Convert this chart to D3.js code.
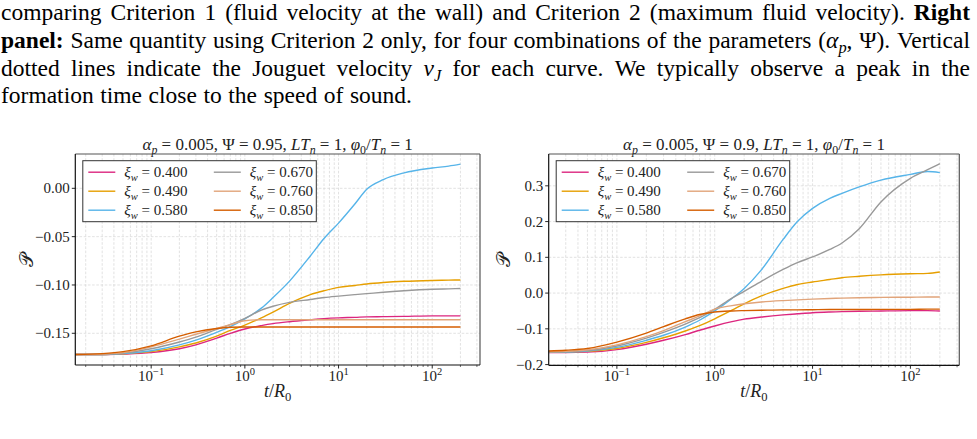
<!DOCTYPE html>
<html>
<head>
<meta charset="utf-8">
<script src="https://cdn.jsdelivr.net/npm/d3@7"></script>
<style>
  body { margin: 0; background: #fff; }
  svg { display: block; }
</style>
</head>
<body>
<svg id="fig" width="977" height="439"></svg>
<script>
// sample times t/R0
const tLeft  = [0.0155, 0.03, 0.05, 0.1, 0.2, 0.3, 0.5, 0.7, 1, 1.5, 2, 3, 5, 7, 10, 15, 20, 30, 50, 100, 150, 200]
const tRight = [0.02, 0.03, 0.05, 0.1, 0.2, 0.3, 0.5, 0.7, 1, 1.5, 2, 3, 5, 7, 10, 15, 20, 30, 50, 100, 150, 200]

const xiLabels = ["0.400", "0.490", "0.580", "0.670", "0.760", "0.850"]
const colors = ["#DC267F", "#E69F00", "#56B4E9", "#999999", "#E1A47A", "#D55E00"]

// left panel: alpha_p = 0.005, Psi = 0.95
const left400 = [-0.172, -0.172, -0.1715, -0.170, -0.166, -0.162, -0.155, -0.150, -0.1455, -0.142, -0.140, -0.138, -0.136, -0.1348, -0.134, -0.1335, -0.133, -0.1328, -0.1325, -0.132, -0.132, -0.132]
const left490 = [-0.172, -0.172, -0.1712, -0.169, -0.164, -0.160, -0.153, -0.147, -0.1415, -0.134, -0.128, -0.119, -0.110, -0.106, -0.1025, -0.1005, -0.099, -0.0975, -0.0962, -0.0953, -0.095, -0.0948]
const left580 = [-0.172, -0.172, -0.171, -0.168, -0.162, -0.157, -0.149, -0.143, -0.135, -0.124, -0.113, -0.096, -0.070, -0.052, -0.036, -0.016, -0.001, 0.009, 0.016, 0.021, 0.023, 0.025]
const left670 = [-0.172, -0.172, -0.1705, -0.166, -0.159, -0.154, -0.146, -0.141, -0.1345, -0.126, -0.122, -0.118, -0.115, -0.113, -0.1115, -0.110, -0.109, -0.1075, -0.106, -0.1045, -0.104, -0.1037]
const left760 = [-0.172, -0.1715, -0.170, -0.164, -0.156, -0.151, -0.145, -0.141, -0.137, -0.136, -0.136, -0.136, -0.136, -0.136, -0.136, -0.136, -0.136, -0.136, -0.136, -0.136, -0.136, -0.136]
const left850 = [-0.172, -0.171, -0.169, -0.163, -0.153, -0.1485, -0.145, -0.1438, -0.1435, -0.1435, -0.1435, -0.1435, -0.1435, -0.1435, -0.1435, -0.1435, -0.1435, -0.1435, -0.1435, -0.1435, -0.1435, -0.1435]

// right panel: alpha_p = 0.005, Psi = 0.9
const right400 = [-0.166, -0.166, -0.165, -0.158, -0.143, -0.132, -0.116, -0.104, -0.092, -0.080, -0.073, -0.067, -0.061, -0.058, -0.055, -0.053, -0.052, -0.051, -0.050, -0.049, -0.049, -0.050]
const right490 = [-0.165, -0.165, -0.163, -0.155, -0.138, -0.125, -0.106, -0.091, -0.072, -0.048, -0.030, -0.008, 0.013, 0.024, 0.031, 0.038, 0.043, 0.047, 0.051, 0.054, 0.055, 0.059]
const right580 = [-0.165, -0.165, -0.162, -0.152, -0.132, -0.118, -0.095, -0.076, -0.050, -0.015, 0.013, 0.065, 0.150, 0.200, 0.237, 0.265, 0.279, 0.297, 0.316, 0.332, 0.340, 0.337]
const right670 = [-0.164, -0.164, -0.161, -0.148, -0.126, -0.110, -0.087, -0.069, -0.045, -0.014, 0.005, 0.033, 0.066, 0.085, 0.101, 0.122, 0.140, 0.180, 0.255, 0.321, 0.345, 0.362]
const right760 = [-0.164, -0.163, -0.159, -0.145, -0.122, -0.105, -0.080, -0.064, -0.045, -0.035, -0.030, -0.025, -0.021, -0.019, -0.017, -0.015, -0.014, -0.013, -0.012, -0.0115, -0.011, -0.011]
const right850 = [-0.162, -0.160, -0.155, -0.137, -0.112, -0.094, -0.072, -0.060, -0.053, -0.050, -0.049, -0.048, -0.047, -0.047, -0.0465, -0.046, -0.046, -0.046, -0.0455, -0.0455, -0.045, -0.045]

const leftYTicks = [-0.15, -0.10, -0.05, 0.00]
const rightYTicks = [-0.2, -0.1, 0.0, 0.1, 0.2, 0.3]
const xMajor = [0.1, 1, 10, 100]

const svg = d3.select("#fig")
const serif = "'Liberation Serif', 'Times New Roman', serif"

// text with italic / bold / sub / sup pieces
function richText(sel, segs, size) {
  let shift = 0
  segs.forEach(s => {
    const target = s.sub ? size * 0.22 : s.sup ? -size * 0.42 : 0
    sel.append("tspan")
      .attr("dy", target - shift)
      .attr("font-size", (s.sub || s.sup) ? size * 0.7 : size)
      .attr("font-style", s.i ? "italic" : null)
      .attr("font-weight", s.b ? "bold" : null)
      .text(s.t)
    shift = target
  })
  return sel
}

// ---------- caption above the figure ----------
const captionLines = [
  [{t: "comparing Criterion 1 (fluid velocity at the wall) and Criterion 2 (maximum fluid velocity). "}, {t: "Right", b: true}],
  [{t: "panel:", b: true}, {t: " Same quantity using Criterion 2 only, for four combinations of the parameters ("}, {t: "α", i: true}, {t: "p", i: true, sub: true}, {t: ", Ψ). Vertical"}],
  [{t: "dotted lines indicate the Jouguet velocity "}, {t: "v", i: true}, {t: "J", i: true, sub: true}, {t: " for each curve. We typically observe a peak in the"}],
  [{t: "formation time close to the speed of sound."}]
]
const capBase = [20, 48, 76, 103]
const capSize = 23.5

function toWords(segs) {
  const words = [[]]
  segs.forEach(s => {
    s.t.split(" ").forEach((p, i) => {
      if (i > 0) words.push([])
      if (p) words[words.length - 1].push({...s, t: p})
    })
  })
  return words.filter(w => w.length)
}

const cap = svg.append("g").attr("font-family", serif).attr("fill", "#000")
captionLines.forEach((segs, li) => {
  const words = toWords(segs)
  const nodes = words.map(w => richText(cap.append("text").attr("y", capBase[li]), w, capSize))
  const widths = nodes.map(n => n.node().getComputedTextLength())
  const total = d3.sum(widths)
  const last = li === captionLines.length - 1
  const gap = last ? capSize * 0.28 : (970 - 1 - total) / (words.length - 1)
  let x = 1
  nodes.forEach((n, i) => { n.attr("x", x); x += widths[i] + gap })
})

// ---------- panels ----------
const panels = [
  {
    x0: 75.3, x1: 480, y0: 154, y1: 365,
    xDomain: [Math.pow(10, -1.81), Math.pow(10, 2.51)],
    yDomain: [-0.1828, 0.0355],
    yTicks: leftYTicks, yFmt: d3.format(".2f"),
    t: tLeft,
    series: [left400, left490, left580, left670, left760, left850],
    title: [{t: "α", i: true}, {t: "p", i: true, sub: true}, {t: " = 0.005, Ψ = 0.95, "}, {t: "LT", i: true}, {t: "n", i: true, sub: true}, {t: " = 1, "}, {t: "φ", i: true}, {t: "0", sub: true}, {t: "/"}, {t: "T", i: true}, {t: "n", i: true, sub: true}, {t: " = 1"}],
    yLabelX: 26
  },
  {
    x0: 548.7, x1: 959.3, y0: 154, y1: 365.3,
    xDomain: [Math.pow(10, -1.697), Math.pow(10, 2.5)],
    yDomain: [-0.202, 0.389],
    yTicks: rightYTicks, yFmt: d3.format(".1f"),
    t: tRight,
    series: [right400, right490, right580, right670, right760, right850],
    title: [{t: "α", i: true}, {t: "p", i: true, sub: true}, {t: " = 0.005, Ψ = 0.9, "}, {t: "LT", i: true}, {t: "n", i: true, sub: true}, {t: " = 1, "}, {t: "φ", i: true}, {t: "0", sub: true}, {t: "/"}, {t: "T", i: true}, {t: "n", i: true, sub: true}, {t: " = 1"}],
    yLabelX: 503
  }
]

panels.forEach((p, pi) => {
  const x = d3.scaleLog().domain(p.xDomain).range([p.x0, p.x1])
  const y = d3.scaleLinear().domain(p.yDomain).range([p.y1, p.y0])
  const g = svg.append("g").attr("font-family", serif)

  // minor + major decade ticks
  const allX = []
  for (let k = -2; k <= 2; k++) for (let m = 1; m <= 9; m++) {
    const v = m * Math.pow(10, k)
    if (v >= p.xDomain[0] && v <= p.xDomain[1]) allX.push(v)
  }

  // grid
  const grid = g.append("g").attr("stroke", "#d6d6d6").attr("stroke-width", 0.7)
    .attr("stroke-dasharray", "2.6,1.6").attr("fill", "none")
  grid.selectAll(".gx").data(allX).join("line")
    .attr("x1", d => x(d)).attr("x2", d => x(d)).attr("y1", p.y0).attr("y2", p.y1)
  grid.selectAll(".gy").data(p.yTicks).join("line")
    .attr("x1", p.x0).attr("x2", p.x1).attr("y1", d => y(d)).attr("y2", d => y(d))

  // curves
  const clipId = "clip" + pi
  g.append("clipPath").attr("id", clipId).append("rect")
    .attr("x", p.x0).attr("y", p.y0).attr("width", p.x1 - p.x0).attr("height", p.y1 - p.y0)
  const line = d3.line().x(d => x(d[0])).y(d => y(d[1])).curve(d3.curveMonotoneX)
  g.append("g").attr("clip-path", `url(#${clipId})`)
    .selectAll("path").data(p.series).join("path")
    .attr("fill", "none")
    .attr("stroke", (d, i) => colors[i])
    .attr("stroke-width", 1.4)
    .attr("d", d => line(d.map((v, i) => [p.t[i], v])))

  // frame
  g.append("line").attr("x1", p.x0).attr("x2", p.x1).attr("y1", p.y0).attr("y2", p.y0).attr("stroke", "#555").attr("stroke-width", 1.2)
  g.append("line").attr("x1", p.x1).attr("x2", p.x1).attr("y1", p.y0).attr("y2", p.y1).attr("stroke", "#555").attr("stroke-width", 1.2)
  g.append("line").attr("x1", p.x0).attr("x2", p.x0).attr("y1", p.y0).attr("y2", p.y1).attr("stroke", "#111").attr("stroke-width", 1.2)
  g.append("line").attr("x1", p.x0).attr("x2", p.x1).attr("y1", p.y1).attr("y2", p.y1).attr("stroke", "#111").attr("stroke-width", 1.2)

  // x ticks
  g.selectAll(".xt").data(allX).join("line")
    .attr("x1", d => x(d)).attr("x2", d => x(d))
    .attr("y1", p.y1).attr("y2", d => p.y1 + (xMajor.includes(d) ? 3.5 : 2))
    .attr("stroke", "#111").attr("stroke-width", d => xMajor.includes(d) ? 0.9 : 0.6)
  xMajor.forEach(v => {
    const e = Math.round(Math.log10(v))
    const t = g.append("text").attr("x", x(v)).attr("y", 381).attr("text-anchor", "middle").attr("fill", "#222")
    richText(t, [{t: "10"}, {t: e < 0 ? "−" + (-e) : String(e), sup: true}], 15)
  })

  // y ticks
  p.yTicks.forEach(v => {
    g.append("line").attr("x1", p.x0 - 3.5).attr("x2", p.x0).attr("y1", y(v)).attr("y2", y(v))
      .attr("stroke", "#111").attr("stroke-width", 0.9)
    g.append("text").attr("x", p.x0 - 5.5).attr("y", y(v) + 5).attr("text-anchor", "end")
      .attr("font-size", 15).attr("fill", "#222").text(p.yFmt(v))
  })

  // title
  richText(g.append("text").attr("x", (p.x0 + p.x1) / 2).attr("y", 150).attr("text-anchor", "middle").attr("fill", "#222"), p.title, 17)

  // axis labels
  richText(g.append("text").attr("x", (p.x0 + p.x1) / 2).attr("y", 397).attr("text-anchor", "middle").attr("fill", "#222"),
    [{t: "t", i: true}, {t: "/"}, {t: "R", i: true}, {t: "0", sub: true}], 18)
  g.append("text").attr("transform", `translate(${p.yLabelX},${(p.y0 + p.y1) / 2}) rotate(-90)`)
    .attr("text-anchor", "middle").attr("font-size", 19).attr("fill", "#222")
    .attr("dy", "0.35em").text("𝒫")

  // legend
  const lx = p.x0 + 7.5, ly = 160.7
  const leg = g.append("g")
  leg.append("rect").attr("x", lx).attr("y", ly).attr("width", 233.5).attr("height", 61)
    .attr("fill", "#fff").attr("stroke", "#333").attr("stroke-width", 1)
  xiLabels.forEach((lab, i) => {
    const col = Math.floor(i / 3), row = i % 3
    const cx = lx + (col ? 125.5 : 0), cy = ly + 11.5 + row * 19
    leg.append("line").attr("x1", cx + 5.5).attr("x2", cx + 32.5).attr("y1", cy).attr("y2", cy)
      .attr("stroke", colors[i]).attr("stroke-width", 1.4)
    richText(leg.append("text").attr("x", cx + 41.5).attr("y", cy + 5).attr("fill", "#222"),
      [{t: "ξ", i: true}, {t: "w", i: true, sub: true}, {t: " = " + lab}], 15)
  })
})
</script>
</body>
</html>
